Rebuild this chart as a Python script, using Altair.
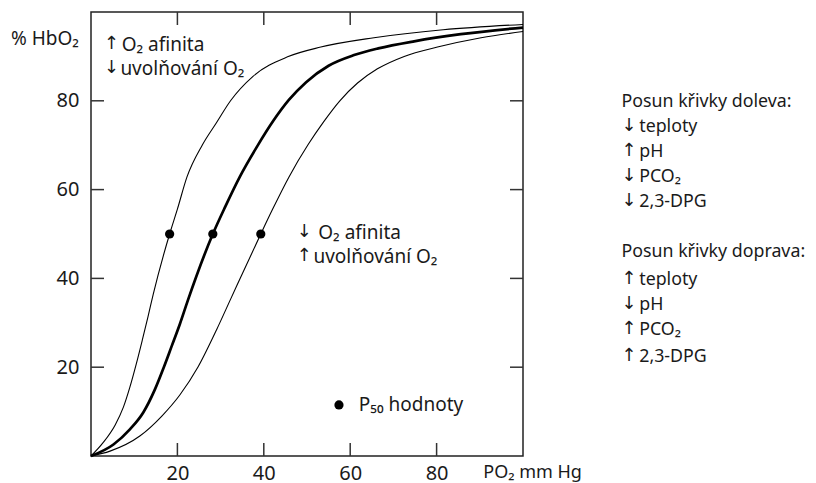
import altair as alt
import pandas as pd

# --- data ---
left_x = [0, 2.8, 5.6, 7.5, 9.0, 10.5, 11.9, 13.2, 14.4, 18.2, 20.0, 22.2, 25.8, 29.0, 32.3, 37.5, 45.5, 53.2, 65.5, 81.5, 100]
left_y = [0, 3.0, 7.0, 11.0, 15.5, 20.8, 26.2, 31.4, 36.4, 50.0, 55.6, 62.8, 70.1, 75.0, 80.0, 85.5, 89.9, 92.1, 94.2, 96.0, 97.2]

mid_x = [0, 5.2, 9.0, 12.1, 14.8, 16.9, 18.7, 20.6, 22.4, 28.2, 31.0, 34.5, 38.5, 42.2, 45.8, 49.8, 55.0, 60.9, 66.5, 74.8, 85.6, 100]
mid_y = [0, 2.6, 6.0, 9.8, 15.0, 20.1, 24.8, 29.8, 35.0, 50.0, 56.0, 63.0, 69.8, 75.5, 80.2, 84.2, 87.9, 90.3, 91.8, 93.4, 95.0, 96.5]

right_x = [0, 4.4, 11.3, 16.4, 20.6, 24.8, 29.1, 32.4, 39.3, 42.0, 45.8, 50.3, 53.8, 57.6, 61.7, 66.3, 72.5, 80.2, 90.3, 100]
right_y = [0, 1.1, 4.5, 9.0, 13.8, 20.1, 28.5, 35.5, 50.0, 55.5, 62.8, 70.2, 75.2, 80.0, 84.0, 87.2, 90.0, 92.1, 94.2, 95.6]

p50_x = [18.2, 28.2, 39.3]
p50_y = [50, 50, 50]

ticks = [20, 40, 60, 80]

# annotation texts inside the plot (left aligned)
txt_text = ["O₂ afinita", "uvolňování O₂", "O₂ afinita", "uvolňování O₂", "P₅₀ hodnoty"]
txt_x = [7.1, 6.8, 52.6, 51.5, 62.0]
txt_y = [92.6, 87.2, 50.2, 44.8, 11.5]

# side block
side_text = ["Posun křivky doleva:", "teploty", "pH", "PCO₂", "2,3-DPG",
             "Posun křivky doprava:", "teploty", "pH", "PCO₂", "2,3-DPG"]
side_x = [122.8, 126.9, 126.9, 126.9, 126.9,
          122.8, 126.9, 126.9, 126.9, 126.9]
side_y = [79.7, 74.2, 68.5, 62.8, 57.3,
          45.9, 39.6, 34.0, 28.4, 22.4]

# arrows
arr_text = ["↑", "↓", "↓", "↑",
            "↓", "↑", "↓", "↓",
            "↑", "↓", "↑", "↑"]
arr_x = [3.0, 3.0, 47.6, 47.6,
         122.8, 122.8, 122.8, 122.8,
         122.8, 122.8, 122.8, 122.8]
arr_y = [92.6, 87.2, 50.2, 44.8,
         74.2, 68.5, 62.8, 57.3,
         39.6, 34.0, 28.4, 22.4]

xtitle_text = ["PO₂ mm Hg"]
xtitle_x = [90.8]
xtitle_y = [-3.8]

ytitle_text = ["% HbO₂"]
ytitle_x = [-2.8]
ytitle_y = [94.0]

legend_dot_x = [57.4]
legend_dot_y = [11.5]

FONT = "Noto Sans"
ARROW_FONT = "DejaVu Sans"
FS = 19
INK = "#1a1a1a"

xs = alt.Scale(domain=[0, 100], nice=False, zero=False)
ys = alt.Scale(domain=[0, 100], nice=False, zero=False)

X = alt.X("x:Q", scale=xs, axis=alt.Axis(values=ticks, ticks=False, tickSize=0, domain=False, grid=False,
                                          labelFont=FONT, labelFontSize=20, labelColor=INK, labelPadding=7,
                                          title=None))
Y = alt.Y("y:Q", scale=ys, axis=alt.Axis(values=ticks, ticks=False, tickSize=0, domain=False, grid=False,
                                          labelFont=FONT, labelFontSize=20, labelColor=INK, labelPadding=12,
                                          title=None))


def line(xv, yv, w):
    return alt.Chart(pd.DataFrame({"x": xv, "y": yv})).mark_line(
        interpolate="monotone", color="black", strokeWidth=w).encode(x=X, y=Y)


def pts(xv, yv):
    return alt.Chart(pd.DataFrame({"x": xv, "y": yv})).mark_circle(
        color="black", opacity=1, size=85).encode(x=alt.X("x:Q", scale=xs), y=alt.Y("y:Q", scale=ys))


def texts(tv, xv, yv, align="left", font=FONT, size=FS, dy=0):
    return alt.Chart(pd.DataFrame({"x": xv, "y": yv, "t": tv})).mark_text(
        align=align, baseline="middle", font=font, fontSize=size, color=INK, dy=dy).encode(
        x=alt.X("x:Q", scale=xs), y=alt.Y("y:Q", scale=ys), text="t:N")


l1 = line(left_x, left_y, 1.1)
l2 = line(mid_x, mid_y, 2.7)
l3 = line(right_x, right_y, 1.1)

dots = pts(p50_x, p50_y)
ldot = pts(legend_dot_x, legend_dot_y)

tick_color = "#333333"
tdf = pd.DataFrame({"x": ticks})
ydf = pd.DataFrame({"y": ticks})
bottom_ticks = alt.Chart(tdf).mark_rule(color=tick_color, strokeWidth=1.5).encode(
    x=alt.X("x:Q", scale=xs), y=alt.value(444), y2=alt.value(431))
top_ticks = alt.Chart(tdf).mark_rule(color=tick_color, strokeWidth=1.5).encode(
    x=alt.X("x:Q", scale=xs), y=alt.value(0), y2=alt.value(13))
left_ticks = alt.Chart(ydf).mark_rule(color=tick_color, strokeWidth=1.5).encode(
    y=alt.Y("y:Q", scale=ys), x=alt.value(0), x2=alt.value(13))
right_ticks = alt.Chart(ydf).mark_rule(color=tick_color, strokeWidth=1.5).encode(
    y=alt.Y("y:Q", scale=ys), x=alt.value(432), x2=alt.value(419))

ann = texts(txt_text, txt_x, txt_y)
side = texts(side_text, side_x, side_y, size=17.8)
arrows = texts(arr_text, arr_x, arr_y, font=ARROW_FONT, size=18, dy=-1)
xtitle = texts(xtitle_text, xtitle_x, xtitle_y, size=18)
ytitle = texts(ytitle_text, ytitle_x, ytitle_y, align="right", size=19)

chart = alt.layer(l1, l2, l3, dots, ldot, bottom_ticks, top_ticks, left_ticks, right_ticks,
                  ann, side, arrows, xtitle, ytitle).properties(
    width=432, height=444,
    autosize=alt.AutoSizeParams(type="none"),
    padding={"left": 83, "top": 4, "right": 285, "bottom": 27},
    background="white",
).configure_view(stroke="#222222", strokeWidth=1.5)

chart.save("out.html", embed_options={"renderer": "svg", "actions": False})
